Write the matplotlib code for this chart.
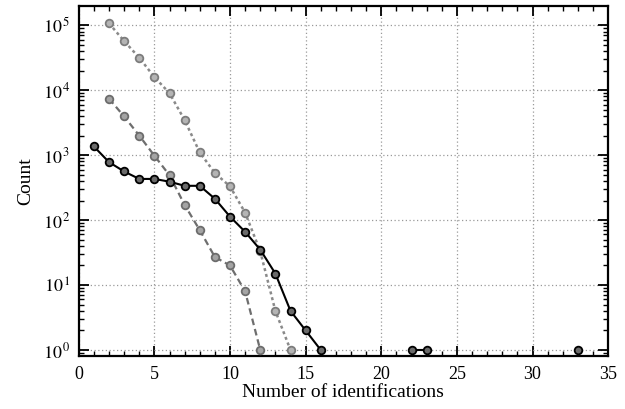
import numpy as np
import matplotlib
matplotlib.use("Agg")
import matplotlib.pyplot as plt
from matplotlib.ticker import MultipleLocator, LogLocator, FixedLocator, NullFormatter

plt.rcParams["font.family"] = ["Liberation Serif", "DejaVu Serif"]
plt.rcParams["mathtext.fontset"] = "stix"

# identifications per spectrum, three search settings
x_light = [2, 3, 4, 5, 6, 7, 8, 9, 10, 11, 12, 13, 14]
y_light = [107000, 57000, 31600, 15900, 9000, 3460, 1100, 530, 330, 130, 33, 4, 1]

x_mid = [2, 3, 4, 5, 6, 7, 8, 9, 10, 11, 12]
y_mid = [7400, 3940, 2000, 980, 490, 171, 70, 27, 20, 8, 1]

# NaN entries break the line where the count is zero
x_dark = [1, 2, 3, 4, 5, 6, 7, 8, 9, 10, 11, 12, 13, 14, 15, 16, 17, 22, 23, 24, 33]
y_dark = [1360, 780, 560, 430, 430, 390, 337, 337, 213, 113, 66, 35, 15, 4, 2, 1,
          np.nan, 1, 1, np.nan, 1]

fig = plt.figure(figsize=(6.25, 4.09), dpi=100)
ax = fig.add_axes([0.126, 0.130, 0.847, 0.856])

ax.plot(x_light, y_light, ls=(0, (1.2, 1.2)), lw=1.8, color="#8a8a8a",
        marker="o", ms=5.5, mfc="#b4b4b4", mec="#7c7c7c", mew=1.3, zorder=3)
ax.plot(x_mid, y_mid, ls=(0, (3, 1.8)), lw=1.6, color="#6e6e6e",
        marker="o", ms=5.5, mfc="#a4a4a4", mec="#6c6c6c", mew=1.3, zorder=3)
ax.plot(x_dark, y_dark, ls="-", lw=1.5, color="black",
        marker="o", ms=5.5, mfc="#6a6a6a", mec="black", mew=1.3, zorder=4)

ax.set_yscale("log")
ax.set_xlim(0, 35)
ax.set_ylim(10 ** -0.09, 10 ** 5.3)

ax.xaxis.set_major_locator(MultipleLocator(5))
ax.xaxis.set_minor_locator(MultipleLocator(1))
ax.yaxis.set_major_locator(FixedLocator([1, 10, 100, 1e3, 1e4, 1e5]))
ax.yaxis.set_minor_locator(LogLocator(base=10, subs=np.arange(2, 10), numticks=20))
ax.yaxis.set_minor_formatter(NullFormatter())
ax.set_yticklabels([r"$10^{\,%d}$" % k for k in range(6)])

ax.tick_params(which="both", direction="in", top=True, right=True, labelsize=13)
ax.tick_params(axis="x", pad=7)
ax.tick_params(axis="y", pad=6)
ax.tick_params(which="major", length=7, width=1.3)
ax.tick_params(which="minor", length=3.5, width=1.0)
for s in ax.spines.values():
    s.set_linewidth(1.6)

ax.grid(True, which="major", ls=(0, (1, 2)), lw=0.9, color="#9a9a9a", zorder=0)

ax.set_xlabel("Number of identifications", fontsize=14, labelpad=1)
ax.set_ylabel("Count", fontsize=14, labelpad=6)

fig.savefig("out.png", dpi=100)
